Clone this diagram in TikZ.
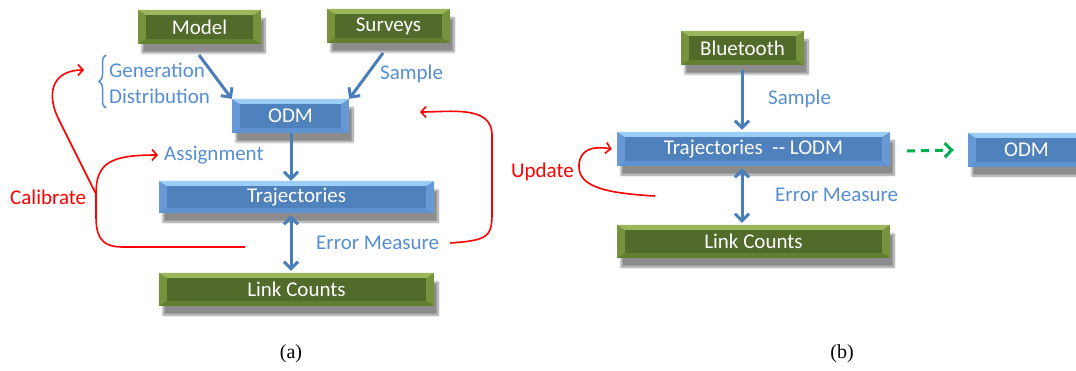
\documentclass[tikz,border=0pt]{standalone}
\usepackage{fontspec}
\setmainfont{Carlito}
\newfontfamily\capfont{Liberation Serif}
\usetikzlibrary{arrows.meta,shadows.blur,decorations.pathreplacing}
\definecolor{gedge}{HTML}{76923C}
\definecolor{gmain}{HTML}{526A2A}
\definecolor{gtop}{HTML}{9BB65A}
\definecolor{gbot}{HTML}{627F32}
\definecolor{bedge}{HTML}{6699D6}
\definecolor{bmain}{HTML}{4F81BD}
\definecolor{btop}{HTML}{9CCDF5}
\definecolor{bbot}{HTML}{5E92D0}
\definecolor{lbl}{HTML}{558ED5}
\definecolor{arr}{HTML}{4A7EBB}
\definecolor{grn}{HTML}{00B050}
\newcommand\bevel[3]{%
 \fill[#3] (path picture bounding box.south west) -- (path picture bounding box.south east) -- ([xshift=-8pt,yshift=5pt]path picture bounding box.south east) -- ([xshift=8pt,yshift=5pt]path picture bounding box.south west) -- cycle;
 \fill[#1] ([xshift=8pt,yshift=5pt]path picture bounding box.south west) rectangle ([xshift=-8pt,yshift=-5pt]path picture bounding box.north east);
 \fill[#2] (path picture bounding box.north west) -- (path picture bounding box.north east) -- ([xshift=-8pt,yshift=-5pt]path picture bounding box.north east) -- ([xshift=8pt,yshift=-5pt]path picture bounding box.north west) -- cycle;}
\tikzset{
 box/.style={minimum height=34pt, inner sep=0pt, text=white, font=\fontsize{21}{23}\selectfont,
   blur shadow={shadow xshift=4pt, shadow yshift=-9pt, shadow opacity=45, shadow blur steps=10}},
 gbox/.style={box, fill=gedge, path picture={\bevel{gmain}{gtop}{gbot}}},
 bbox/.style={box, fill=bedge, path picture={\bevel{bmain}{btop}{bbot}}},
 lab/.style={text=lbl, font=\fontsize{21}{23}\selectfont, inner sep=0pt},
 rlab/.style={text=red, font=\fontsize{21}{23}\selectfont, inner sep=0pt},
 barrow/.style={draw=arr, line width=3pt, -{Straight Barb[length=7pt,width=14pt,line width=3pt]}},
 bdarrow/.style={draw=arr, line width=3pt, {Straight Barb[length=7pt,width=14pt,line width=3pt]}-{Straight Barb[length=7pt,width=14pt,line width=3pt]}},
 rarrow/.style={draw=red, line width=1.6pt, -{Straight Barb[length=5pt,width=11pt,line width=1.6pt]}},
 rline/.style={draw=red, line width=1.6pt},
 captxt/.style={font=\capfont\fontsize{20}{22}\selectfont},
}
\begin{document}
\begin{tikzpicture}[x=1pt,y=-1pt]
\useasboundingbox (0,0) rectangle (1076,371);
% (a)
\node[gbox, minimum width=123pt] (model) at (199.5,27) {Model};
\node[gbox, minimum width=123pt] (surveys) at (388.5,26) {Surveys};
\node[bbox, minimum width=117pt] (odm) at (290.5,116) {ODM};
\node[bbox, minimum width=275pt, minimum height=32pt] (traj) at (296.5,197) {Trajectories};
\node[gbox, minimum width=275pt, minimum height=33pt] (link) at (296.5,289.5) {Link Counts};
\node[lab, anchor=west] (gen) at (109,70) {Generation};
\node[lab, anchor=west] (dist) at (109,96) {Distribution};
\draw[lbl, line width=1.5pt, decorate, decoration={brace, amplitude=7pt}] (106,108) -- (106,55);
\node[lab, anchor=west] (samp) at (380,74) {Sample};
\node[lab, anchor=west] (assign) at (164,155) {Assignment};
\node[rlab, anchor=west] (calib) at (10,197) {Calibrate};
\node[lab, anchor=west] (err) at (316,243) {Error Measure};
\coordinate (mstart) at (199,55);
\coordinate (sstart) at (383,53);
\draw[barrow] (mstart) -- (odm.north west);
\draw[barrow] (sstart) -- (odm.north east);
\draw[barrow] (odm.south -| 291,0) -- (traj.north -| 291,0);
\draw[bdarrow] ([yshift=-2pt]traj.south -| 291,0) -- ([yshift=2pt]link.north -| 291,0);
\coordinate (cj) at (96,194);
\coordinate (cend) at (245,247);
\draw[rline] (cend) -- (122,247) .. controls (98,247) and (96,232) .. (96,215) -- (cj);
\draw[rarrow] (cj) .. controls (96,163) and (110,155) .. ([xshift=-6pt]assign.west);
\draw[rarrow] (cj) -- (58,118) .. controls (45,90) and (55,70) .. ([xshift=-25pt]gen.west);
\coordinate (eend) at (450,243);
\draw[rarrow] (eend) .. controls (495,240) and (492,235) .. (492,200) -- (492,135) .. controls (492,105) and (450,112) .. (420,112);
% (b)
\node[gbox, minimum width=123pt] (blue) at (742.5,48) {Bluetooth};
\node[bbox, minimum width=273pt] (lodm) at (753.5,149) {Trajectories~~{-}{-} LODM};
\node[bbox, minimum width=117pt] (odmb) at (1026.5,150) {ODM};
\node[gbox, minimum width=273pt, minimum height=33pt] (linkb) at (753.5,241.5) {Link Counts};
\node[lab, anchor=west] (sampb) at (768,99) {Sample};
\node[lab, anchor=west] (errb) at (775,195) {Error Measure};
\node[rlab, anchor=west] (upd) at (511,172) {Update};
\draw[barrow] (blue.south -| 742,0) ++(0,5) -- ([yshift=2pt]lodm.north -| 742,0);
\draw[bdarrow] ([yshift=-2pt]lodm.south -| 742,0) -- ([yshift=2pt]linkb.north -| 742,0);
\draw[draw=grn, line width=3pt, dash pattern=on 8pt off 6pt, -{Straight Barb[length=7pt,width=14pt,line width=3pt]}] ([xshift=17pt,yshift=-2pt]lodm.east) -- ([xshift=-14pt,yshift=0pt]odmb.west);
\coordinate (ustart) at (655,196);
\draw[rarrow] (ustart) .. controls (600,193) and (578,185) .. (579,165) .. controls (580,148) and (595,146) .. ([xshift=-5pt]lodm.west);
% captions
\node[captxt] (capa) at (291,354) {(a)};
\node[captxt] (capb) at (842,354) {(b)};
\end{tikzpicture}
\end{document}
